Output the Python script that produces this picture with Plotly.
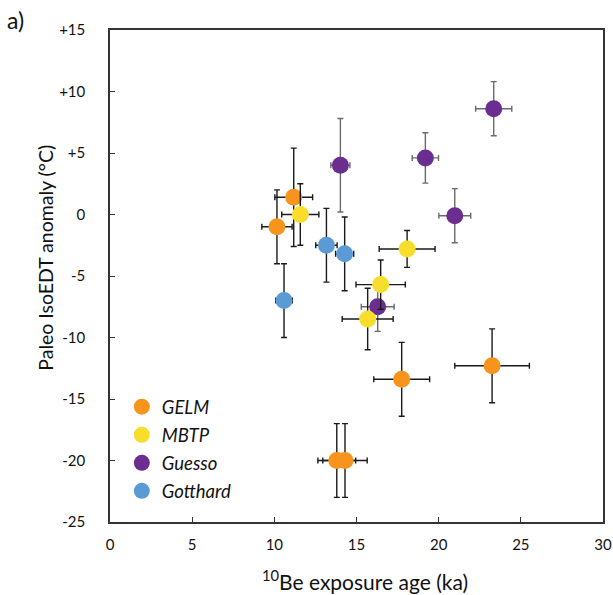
import plotly.graph_objects as go

# ---- data ----
gelm_x = [10.16, 11.18, 17.75, 23.25, 13.80, 14.30]
gelm_y = [-1.0, 1.4, -13.4, -12.3, -20.0, -20.0]
gelm_xerr = [0.92, 1.15, 1.70, 2.27, 1.15, 1.35]
gelm_yerr = [3.0, 4.0, 3.0, 3.0, 3.0, 3.0]

mbtp_x = [11.58, 18.08, 16.47, 15.68]
mbtp_y = [0.0, -2.8, -5.7, -8.5]
mbtp_xerr = [1.13, 1.70, 1.50, 1.55]
mbtp_yerr = [2.5, 1.5, 2.0, 2.5]

guesso_x = [14.02, 19.19, 23.35, 20.98, 16.29]
guesso_y = [4.0, 4.6, 8.6, -0.1, -7.5]
guesso_xerr = [0.58, 0.80, 1.10, 0.97, 1.00]
guesso_yerr = [3.8, 2.05, 2.2, 2.2, 2.0]

gott_x = [10.59, 13.17, 14.28]
gott_y = [-7.0, -2.5, -3.2]
gott_xerr = [0.50, 0.65, 0.55]
gott_yerr = [3.0, 3.0, 3.0]

x_ticks = [0, 5, 10, 15, 20, 25, 30]
y_ticks = [15, 10, 5, 0, -5, -10, -15, -20, -25]
y_ticktext = ["+15", "+10", "+5", "0", "-5", "-10", "-15", "-20", "-25"]

x_title = "<sup>10</sup>Be exposure age (ka)"
y_title = "Paleo IsoEDT anomaly (°C)"
panel_label = "a)"

series = [
    # name, x, y, xerr, yerr, color, errcolor, legendrank
    ("GELM", gelm_x, gelm_y, gelm_xerr, gelm_yerr, "#F7941D", "#1a1a1a", 1),
    ("Guesso", guesso_x, guesso_y, guesso_xerr, guesso_yerr, "#6B2D90", "#6a6a6a", 3),
    ("MBTP", mbtp_x, mbtp_y, mbtp_xerr, mbtp_yerr, "#F9DD2B", "#1a1a1a", 2),
    ("Gotthard", gott_x, gott_y, gott_xerr, gott_yerr, "#5A9BD5", "#1a1a1a", 4),
]

FONT = "Lato"

fig = go.Figure()
for name, xs, ys, xe, ye, col, ecol, rank in series:
    fig.add_trace(go.Scatter(
        x=xs, y=ys, mode="markers", name=name,
        legendgroup=name, legendrank=rank,
        marker=dict(size=17, color=col, line=dict(width=0)),
        error_x=dict(type="data", array=xe, color=ecol, thickness=1.4, width=3),
        error_y=dict(type="data", array=ye, color=ecol, thickness=1.4, width=3),
    ))

axis_common = dict(
    showgrid=False, zeroline=False, showline=True, mirror=True,
    linecolor="#333333", linewidth=1.5,
    ticks="inside", ticklen=5, tickwidth=1, tickcolor="#333333",
    tickfont=dict(family=FONT, size=15, color="#111111"),
    automargin=False,
)

fig.update_layout(
    width=613, height=595,
    margin=dict(l=110, r=10, t=30, b=73),
    paper_bgcolor="white", plot_bgcolor="white",
    font=dict(family=FONT, color="#111111"),
    showlegend=True,
    legend=dict(
        x=0.024, y=0.272, xanchor="left", yanchor="top",
        bgcolor="rgba(0,0,0,0)",
        font=dict(family=FONT, size=18.5, style="italic", color="#111111"),
        traceorder="grouped", tracegroupgap=1,
    ),
    xaxis=dict(range=[0, 30], tickvals=x_ticks, ticklabelstandoff=8, **axis_common),
    yaxis=dict(range=[-25, 15], tickvals=y_ticks, ticktext=y_ticktext,
               ticklabelstandoff=20, **axis_common),
)

# axis titles (placed as in the reference, slightly off-centre)
fig.add_annotation(
    text=x_title, xref="paper", yref="paper", x=0.517, y=-0.118,
    xanchor="center", yanchor="middle", showarrow=False,
    font=dict(family=FONT, size=21, color="#111111"),
)
fig.add_annotation(
    text=y_title, xref="paper", yref="paper", x=-0.13, y=0.537,
    xanchor="center", yanchor="middle", textangle=-90, showarrow=False,
    font=dict(family=FONT, size=19.5, color="#111111"),
)
fig.add_annotation(
    text=panel_label, xref="paper", yref="paper", x=-0.213, y=1.0,
    xanchor="left", yanchor="middle", yshift=10, showarrow=False,
    font=dict(family=FONT, size=23, color="#111111"),
)

# remove the default page margin so the figure sits at the window origin
fig.write_html(
    "out.html",
    config={"displayModeBar": False},
    post_script="document.body.style.margin='0';document.body.style.overflow='hidden';",
)
